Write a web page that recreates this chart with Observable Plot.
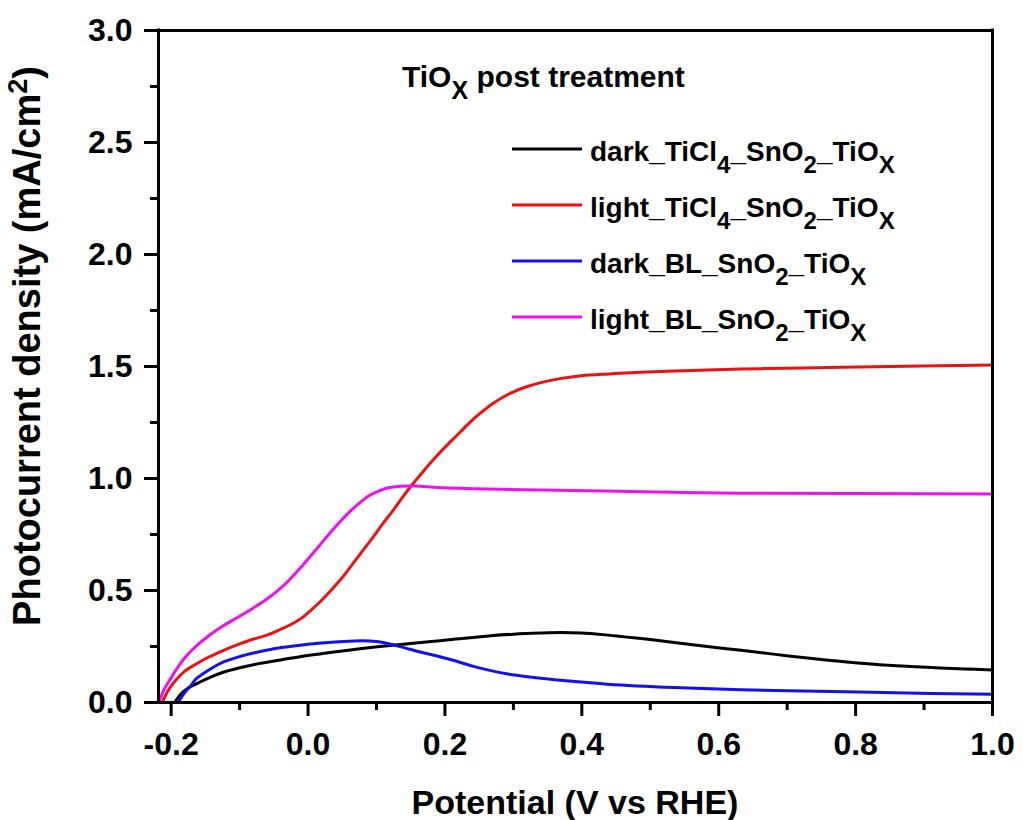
<!DOCTYPE html>
<html>
<head>
<meta charset="utf-8">
<script src="https://cdn.jsdelivr.net/npm/d3@7"></script>
<script src="https://cdn.jsdelivr.net/npm/@observablehq/plot@0.6"></script>
<style>
  html, body { margin: 0; padding: 0; background: #fff; }
  #chart { width: 1023px; height: 820px; position: relative; }
</style>
</head>
<body>
<div id="chart"></div>
<script>
// ---- Data ----
const seriesNames = ["dark_TiCl4_SnO2_TiOX", "light_TiCl4_SnO2_TiOX", "dark_BL_SnO2_TiOX", "light_BL_SnO2_TiOX"];
const seriesColors = ["#000000", "#ee1111", "#1111ee", "#ee11ee"];

const darkTiCl4X = [-0.195, -0.185, -0.175, -0.164, -0.145, -0.125, -0.1, -0.0765, -0.04, -0.003, 0.035, 0.07, 0.105, 0.143, 0.18, 0.216, 0.267, 0.30, 0.34, 0.37, 0.399, 0.43, 0.462, 0.50, 0.535, 0.58, 0.633, 0.68, 0.716, 0.76, 0.813, 0.86, 0.911, 0.96, 1.0];
const darkTiCl4Y = [0, 0.04, 0.065, 0.082, 0.11, 0.134, 0.155, 0.171, 0.19, 0.209, 0.224, 0.238, 0.25, 0.261, 0.272, 0.283, 0.298, 0.305, 0.31, 0.312, 0.31, 0.303, 0.293, 0.281, 0.268, 0.251, 0.233, 0.216, 0.203, 0.189, 0.174, 0.164, 0.156, 0.15, 0.145];

const lightTiCl4X = [-0.213, -0.205, -0.194, -0.18, -0.164, -0.145, -0.125, -0.1, -0.086, -0.06, -0.047, -0.025, -0.008, 0.005, 0.021, 0.035, 0.05, 0.065, 0.08, 0.095, 0.109, 0.124, 0.138, 0.152, 0.167, 0.182, 0.197, 0.21, 0.223, 0.238, 0.253, 0.27, 0.292, 0.315, 0.34, 0.37, 0.399, 0.44, 0.487, 0.56, 0.633, 0.70, 0.78, 0.85, 0.92, 1.0];
const lightTiCl4Y = [0, 0.05, 0.097, 0.14, 0.171, 0.203, 0.231, 0.262, 0.277, 0.301, 0.317, 0.348, 0.38, 0.414, 0.46, 0.506, 0.558, 0.618, 0.678, 0.738, 0.797, 0.857, 0.916, 0.972, 1.027, 1.08, 1.13, 1.17, 1.21, 1.255, 1.295, 1.335, 1.375, 1.405, 1.428, 1.447, 1.459, 1.467, 1.474, 1.482, 1.489, 1.492, 1.497, 1.50, 1.503, 1.507];

const darkBLX = [-0.19, -0.18, -0.17, -0.164, -0.145, -0.125, -0.1, -0.0765, -0.05, -0.018, 0.015, 0.045, 0.08, 0.10, 0.118, 0.14, 0.167, 0.194, 0.216, 0.243, 0.292, 0.365, 0.438, 0.535, 0.633, 0.765, 0.911, 1.0];
const darkBLY = [0, 0.045, 0.08, 0.104, 0.145, 0.179, 0.205, 0.223, 0.24, 0.253, 0.264, 0.271, 0.276, 0.272, 0.262, 0.245, 0.223, 0.203, 0.185, 0.16, 0.127, 0.1, 0.082, 0.067, 0.057, 0.049, 0.04, 0.037];

const lightBLX = [-0.218, -0.21, -0.2, -0.1936, -0.18, -0.164, -0.145, -0.125, -0.1, -0.081, -0.06, -0.042, -0.025, -0.008, 0.01, 0.026, 0.043, 0.06, 0.075, 0.089, 0.104, 0.1185, 0.135, 0.1576, 0.19, 0.26, 0.34, 0.49, 0.63, 0.80, 1.0];
const lightBLY = [0, 0.06, 0.11, 0.142, 0.2, 0.25, 0.298, 0.34, 0.385, 0.42, 0.462, 0.505, 0.555, 0.612, 0.676, 0.735, 0.795, 0.849, 0.89, 0.923, 0.945, 0.96, 0.965, 0.966, 0.96, 0.953, 0.949, 0.941, 0.934, 0.933, 0.931];

const xDomain = [-0.2185, 1.0];
const yDomain = [0, 3.0];
const xTicks = [-0.2, 0.0, 0.2, 0.4, 0.6, 0.8, 1.0];
const xMinorTicks = [-0.1, 0.1, 0.3, 0.5, 0.7, 0.9];
const yTicks = [0.0, 0.5, 1.0, 1.5, 2.0, 2.5, 3.0];
const yMinorTicks = [0.25, 0.75, 1.25, 1.75, 2.25, 2.75];

// ---- Build table ----
const seriesX = [darkTiCl4X, lightTiCl4X, darkBLX, lightBLX];
const seriesY = [darkTiCl4Y, lightTiCl4Y, darkBLY, lightBLY];
const rows = [];
seriesNames.forEach((name, i) => {
  seriesX[i].forEach((x, k) => rows.push({series: name, v: x, j: seriesY[i][k]}));
});

const fmt = d => d.toFixed(1);
const FONT = "'Liberation Sans', Arial, Helvetica, sans-serif";

const svg = Plot.plot({
  width: 1023,
  height: 820,
  marginLeft: 158,
  marginRight: 31,
  marginTop: 30,
  marginBottom: 118,
  style: {fontFamily: FONT, fontWeight: "bold", background: "white", color: "black"},
  x: {domain: xDomain},
  y: {domain: yDomain},
  color: {domain: seriesNames, range: seriesColors},
  marks: [
    Plot.line(rows, {x: "v", y: "j", z: "series", stroke: "series", strokeWidth: 3, curve: "catmull-rom"}),
    Plot.ruleX(xDomain, {stroke: "black", strokeWidth: 3, strokeLinecap: "square"}),
    Plot.ruleY(yDomain, {stroke: "black", strokeWidth: 3, strokeLinecap: "square"}),
    Plot.axisX({ticks: xTicks, tickSize: 14, tickPadding: 16, strokeWidth: 3, fontSize: 32, fontWeight: "bold", tickFormat: fmt, label: null}),
    Plot.axisX({ticks: xMinorTicks, tickSize: 8, strokeWidth: 3, text: null, label: null}),
    Plot.axisY({ticks: yTicks, tickSize: 14, tickPadding: 12, strokeWidth: 3, fontSize: 32, fontWeight: "bold", tickFormat: fmt, label: null}),
    Plot.axisY({ticks: yMinorTicks, tickSize: 8, strokeWidth: 3, text: null, label: null})
  ]
});

document.getElementById("chart").appendChild(svg);

// ---- Titles and legend ----
const root = d3.select(svg);
const g = root.append("g")
  .attr("font-family", FONT).attr("font-weight", "bold")
  .attr("fill", "black").attr("text-anchor", "start");

// X axis title
g.append("text")
  .attr("x", 575).attr("y", 814)
  .attr("text-anchor", "middle")
  .attr("font-size", 34)
  .text("Potential (V vs RHE)");

// Y axis title
const yt = g.append("text")
  .attr("transform", "translate(40,346) rotate(-90)")
  .attr("text-anchor", "middle")
  .attr("font-size", 38);
yt.append("tspan").text("Photocurrent density (mA/cm");
yt.append("tspan").attr("font-size", 27).attr("dy", -13).text("2");
yt.append("tspan").attr("dy", 13).text(")");

// Helper for text with subscripts: parts = [[text, isSub], ...]
function richText(sel, parts, size, subSize, shift) {
  let down = false;
  parts.forEach(([t, sub]) => {
    const ts = sel.append("tspan").text(t).attr("font-size", sub ? subSize : size);
    if (sub && !down) { ts.attr("dy", shift); down = true; }
    else if (!sub && down) { ts.attr("dy", -shift); down = false; }
  });
}

// Legend title
const lt = g.append("text").attr("x", 402).attr("y", 87).attr("text-anchor", "start");
richText(lt, [["TiO", false], ["X", true], [" post treatment", false]], 30, 25, 12);

// Legend entries
const legendLabels = [
  [["dark_TiCl", false], ["4", true], ["_SnO", false], ["2", true], ["_TiO", false], ["X", true]],
  [["light_TiCl", false], ["4", true], ["_SnO", false], ["2", true], ["_TiO", false], ["X", true]],
  [["dark_BL_SnO", false], ["2", true], ["_TiO", false], ["X", true]],
  [["light_BL_SnO", false], ["2", true], ["_TiO", false], ["X", true]]
];
const legendRowY = [149, 205, 261, 317];
legendLabels.forEach((parts, i) => {
  g.append("line")
    .attr("x1", 512).attr("x2", 582)
    .attr("y1", legendRowY[i]).attr("y2", legendRowY[i])
    .attr("stroke", seriesColors[i]).attr("stroke-width", 3);
  const t = g.append("text").attr("x", 590).attr("y", legendRowY[i] + 12).attr("text-anchor", "start");
  richText(t, parts, 28, 24, 12);
});
</script>
</body>
</html>
